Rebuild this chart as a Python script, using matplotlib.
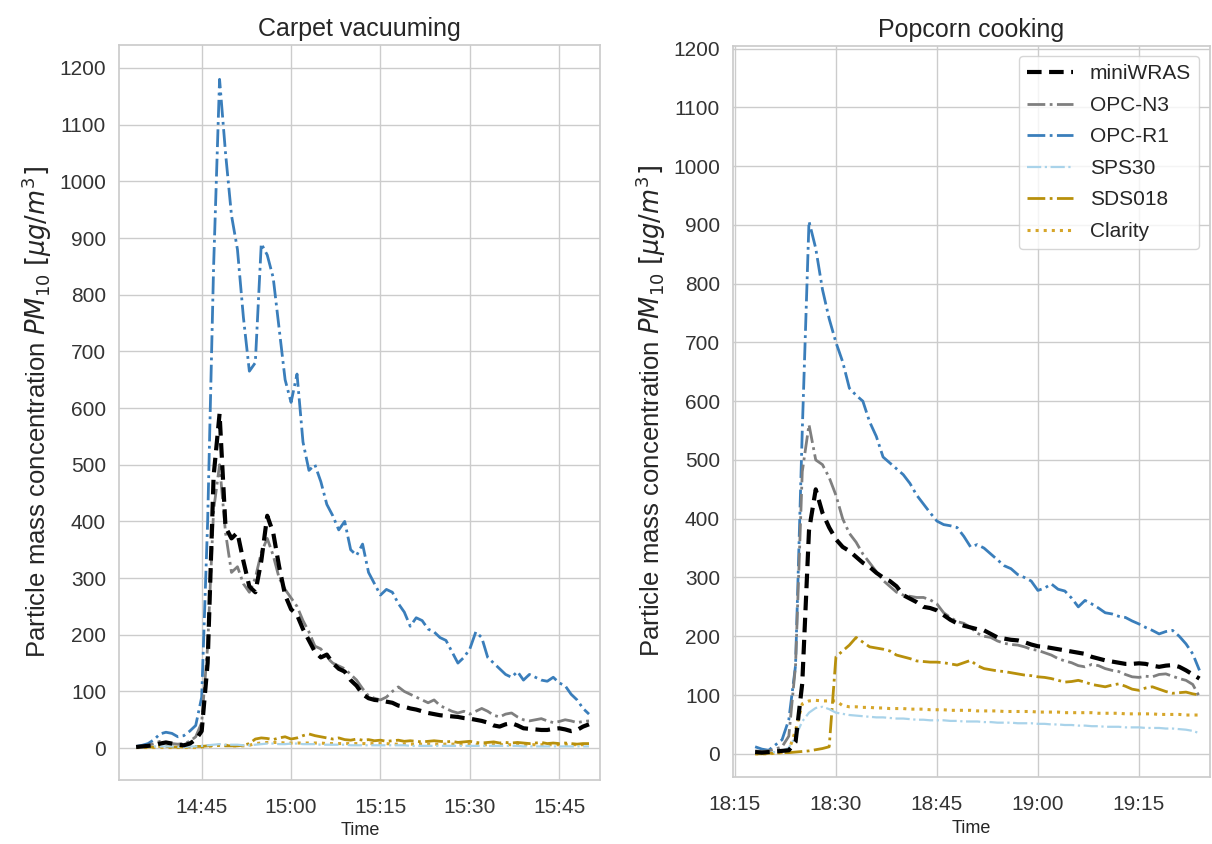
import matplotlib
matplotlib.use("Agg")
import matplotlib.pyplot as plt
import matplotlib.dates as mdates
import pandas as pd
import seaborn as sns

sns.set_theme(style="whitegrid")
plt.rcParams['font.family'] = ['Liberation Sans', 'DejaVu Sans']
plt.rcParams['mathtext.fontset'] = 'dejavusans'

# ---- Carpet vacuuming (1-min data, 14:34 - 15:50) ----
vac_time = pd.date_range("2021-01-01 14:34", "2021-01-01 15:50", freq="1min")
vac_miniwras = [2, 3, 4, 5, 8, 10, 8, 6, 5, 8, 15, 30, 150, 480, 590, 390, 370, 380, 330, 285,
                275, 330, 410, 380, 320, 270, 245, 235, 210, 190, 170, 160, 165, 150, 140, 135,
                120, 110, 95, 88, 85, 84, 82, 80, 75, 73, 70, 68, 65, 62, 60, 58, 57, 56, 55,
                53, 52, 50, 48, 45, 40, 38, 42, 44, 40, 35, 34, 33, 32, 32, 34, 35, 33, 30, 32,
                38, 42]
vac_opcn3 = [2, 3, 5, 8, 12, 10, 8, 7, 8, 12, 20, 45, 180, 420, 500, 380, 310, 320, 290, 275,
             300, 345, 370, 340, 300, 280, 265, 250, 225, 205, 180, 175, 160, 150, 145, 140,
             130, 120, 105, 92, 88, 85, 90, 100, 108, 100, 95, 90, 85, 80, 85, 75, 70, 65, 62,
             65, 60, 65, 70, 65, 58, 55, 60, 62, 55, 50, 48, 50, 52, 48, 45, 47, 50, 48, 45,
             47, 48]
vac_opcr1 = [3, 5, 8, 15, 25, 28, 26, 20, 22, 30, 40, 90, 400, 850, 1180, 1050, 940, 880, 760,
             665, 680, 890, 870, 830, 740, 650, 610, 660, 540, 490, 500, 470, 430, 410, 385,
             400, 350, 340, 360, 310, 290, 270, 280, 275, 255, 240, 215, 230, 225, 210, 205,
             195, 190, 170, 150, 160, 175, 205, 195, 160, 150, 140, 130, 125, 135, 120, 130,
             125, 120, 118, 125, 115, 110, 95, 85, 70, 60]
vac_sps30 = [2, 2, 3, 3, 3, 3, 3, 2, 2, 3, 3, 4, 5, 6, 7, 6, 6, 6, 5, 5, 6, 7, 8, 8, 7, 7, 8,
             8, 7, 7, 7, 6, 6, 6, 6, 6, 5, 5, 5, 5, 5, 5, 5, 5, 5, 5, 4, 4, 4, 4, 4, 4, 4, 4, 4,
             4, 4, 4, 4, 4, 4, 4, 4, 4, 4, 3, 3, 3, 3, 3, 3, 3, 3, 3, 3, 3, 3]
vac_sds018 = [2, 2, 2, 2, 3, 3, 2, 2, 2, 2, 3, 3, 4, 5, 5, 4, 4, 4, 5, 8, 16, 18, 17, 15, 18,
              20, 16, 18, 22, 25, 22, 20, 18, 16, 18, 15, 14, 16, 14, 15, 13, 14, 12, 13, 14,
              12, 13, 12, 11, 12, 13, 12, 11, 12, 10, 11, 12, 10, 9, 10, 11, 9, 10, 9, 10, 9,
              8, 9, 10, 8, 9, 8, 9, 8, 7, 8, 8]
vac_clarity = [1, 1, 1, 1, 1, 1, 1, 1, 1, 1, 1, 2, 3, 4, 5, 5, 4, 4, 4, 5, 8, 9, 10, 10, 10,
               9, 9, 9, 9, 9, 9, 9, 8, 8, 8, 8, 8, 8, 8, 8, 8, 8, 8, 7, 7, 7, 7, 7, 7, 7, 7, 7,
               7, 7, 7, 7, 7, 6, 6, 6, 6, 6, 6, 6, 6, 6, 6, 6, 6, 6, 6, 6, 6, 6, 6, 6, 6]

# ---- Popcorn cooking (1-min data, 18:18 - 19:24) ----
pop_time = pd.date_range("2021-01-01 18:18", "2021-01-01 19:24", freq="1min")
pop_miniwras = [3, 2, 3, 4, 5, 6, 20, 120, 380, 450, 410, 385, 365, 352, 345, 335, 325, 318,
                308, 300, 294, 285, 270, 264, 258, 250, 248, 244, 236, 228, 222, 218, 215, 212,
                210, 204, 198, 196, 194, 193, 190, 186, 183, 182, 180, 178, 176, 174, 172, 170,
                165, 162, 159, 157, 155, 153, 153, 154, 153, 150, 148, 150, 151, 148, 142, 135,
                128]
pop_opcn3 = [5, 4, 5, 8, 12, 30, 150, 480, 560, 500, 492, 470, 440, 400, 375, 360, 340, 325,
             310, 295, 285, 275, 270, 268, 266, 266, 262, 255, 240, 232, 225, 222, 215, 205,
             200, 198, 192, 188, 186, 185, 182, 178, 176, 172, 168, 162, 158, 155, 150, 148,
             152, 150, 145, 142, 140, 135, 131, 130, 132, 131, 135, 136, 132, 128, 125, 118, 97]
pop_opcr1 = [12, 8, 6, 15, 24, 58, 150, 550, 906, 860, 790, 740, 700, 667, 622, 610, 600, 565,
             540, 505, 495, 485, 475, 460, 440, 425, 410, 396, 390, 388, 385, 370, 352, 356,
             350, 340, 330, 320, 315, 305, 300, 294, 278, 282, 289, 280, 277, 265, 250, 261,
             255, 248, 240, 238, 234, 232, 226, 221, 215, 210, 204, 208, 210, 200, 187, 170, 142]
pop_sps30 = [2, 2, 3, 3, 5, 10, 30, 55, 70, 78, 80, 76, 70, 68, 66, 65, 64, 63, 62, 62, 61, 60,
             60, 59, 58, 58, 57, 57, 57, 56, 56, 55, 55, 55, 54, 54, 53, 53, 53, 52, 52, 52, 51,
             51, 50, 50, 49, 49, 48, 48, 47, 47, 46, 46, 46, 45, 45, 45, 44, 44, 44, 43, 43, 42,
             41, 39, 35]
pop_sds018 = [0, 0, 1, 1, 2, 2, 3, 4, 5, 7, 9, 12, 165, 175, 185, 198, 190, 182, 180, 178, 175,
              168, 165, 162, 158, 157, 156, 156, 155, 153, 151, 155, 159, 150, 145, 143, 141,
              140, 138, 136, 134, 133, 131, 130, 128, 125, 122, 123, 125, 122, 118, 116, 114,
              117, 119, 115, 110, 108, 112, 114, 110, 106, 103, 104, 105, 102, 100]
pop_clarity = [0, 0, 0, 1, 2, 5, 40, 85, 90, 91, 90, 90, 90, 82, 80, 80, 79, 79, 78, 78, 77, 77,
               77, 76, 76, 76, 75, 75, 75, 74, 74, 74, 74, 73, 73, 73, 73, 72, 72, 72, 72, 72,
               71, 71, 71, 71, 70, 70, 70, 70, 70, 69, 69, 69, 69, 68, 68, 68, 68, 68, 67, 67,
               67, 67, 66, 66, 66]

labels = ["miniWRAS", "OPC-N3", "OPC-R1", "SPS30", "SDS018", "Clarity"]
colors = ["black", "#7f7f7f", "#3a7ebb", "#a9d3ea", "#b8900c", "#d6a62a"]
styles = [(0, (3.5, 1.8)), "-.", "-.", "-.", "-.", ":"]
widths = [3.0, 2.0, 2.0, 1.6, 2.0, 2.2]

fig = plt.figure(figsize=(12.12, 8.44), dpi=100)
ax1 = fig.add_axes([0.0984, 0.076, 0.397, 0.871])
ax2 = fig.add_axes([0.605, 0.079, 0.393, 0.867])

panels = [
    (ax1, "Carpet vacuuming", vac_time,
     [vac_miniwras, vac_opcn3, vac_opcr1, vac_sps30, vac_sds018, vac_clarity],
     ("2021-01-01 14:31:10", "2021-01-01 15:51:55"), (-56, 1241)),
    (ax2, "Popcorn cooking", pop_time,
     [pop_miniwras, pop_opcn3, pop_opcr1, pop_sps30, pop_sds018, pop_clarity],
     ("2021-01-01 18:14:45", "2021-01-01 19:25:30"), (-40, 1205)),
]

for ax, title, t, series, xl, yl in panels:
    # draw back-to-front so the reference line sits on top
    for vals, lab, c, ls, lw in reversed(list(zip(series, labels, colors, styles, widths))):
        ax.plot(t, vals, color=c, linestyle=ls, linewidth=lw, label=lab)
    ax.set_title(title, fontsize=18)
    ax.set_xlabel("Time", fontsize=13)
    ax.set_ylabel(r"Particle mass concentration $PM_{10}$ $[\mu g/m^3]$", fontsize=18.5)
    ax.set_xlim(pd.Timestamp(xl[0]), pd.Timestamp(xl[1]))
    ax.set_ylim(*yl)
    ax.set_yticks(range(0, 1201, 100))
    ax.xaxis.set_major_locator(mdates.MinuteLocator(byminute=[0, 15, 30, 45]))
    ax.xaxis.set_major_formatter(mdates.DateFormatter("%H:%M"))
    ax.tick_params(labelsize=15, colors="#333333")
    ax.tick_params(axis="x", pad=7)
    for s in ax.spines.values():
        s.set_color("#cccccc")

handles, labs = ax2.get_legend_handles_labels()
ax2.legend(handles[::-1], labs[::-1], loc="upper right", fontsize=15,
           handlelength=2.2, labelspacing=0.6, frameon=True, borderaxespad=0.5)

fig.savefig("out.png", dpi=100)
